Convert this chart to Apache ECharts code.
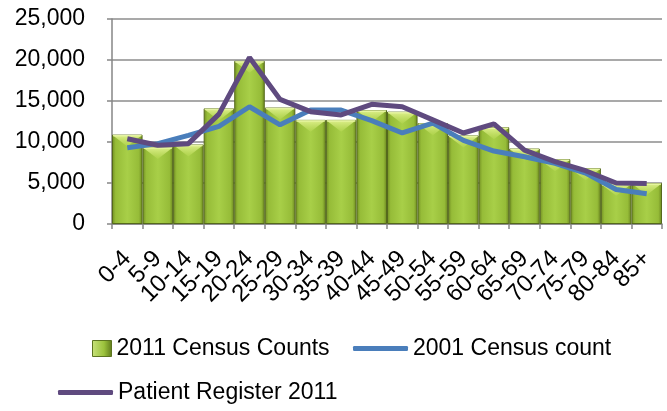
<!DOCTYPE html>
<html>
<head>
<meta charset="utf-8">
<script src="https://cdn.jsdelivr.net/npm/echarts@6/dist/echarts.min.js"></script>
<style>
html,body{margin:0;padding:0;background:#fff;}
#chart{width:667px;height:411px;}
</style>
</head>
<body>
<div id="chart"></div>
<script>
const categories = ['0-4','5-9','10-14','15-19','20-24','25-29','30-34','35-39','40-44','45-49','50-54','55-59','60-64','65-69','70-74','75-79','80-84','85+'];
const census2011 = [10900, 9400, 9700, 14100, 19900, 14200, 12700, 12700, 13900, 13700, 12300, 10800, 11800, 9200, 7900, 6800, 4900, 5000];
const census2001 = [9300, 9800, 10800, 11900, 14300, 12100, 13900, 13900, 12600, 11100, 12300, 10200, 8900, 8200, 7400, 6200, 4200, 3700];
const patient2011 = [10400, 9600, 9800, 13400, 20300, 15200, 13700, 13300, 14600, 14300, 12700, 11100, 12200, 9000, 7600, 6500, 5000, 4950];
const yTicks = [0, 5000, 10000, 15000, 20000, 25000];

const FONT = 'Liberation Sans';
const barGrad = new echarts.graphic.LinearGradient(0, 0, 1, 0, [
  {offset: 0, color: '#718d22'},
  {offset: 0.12, color: '#96bc38'},
  {offset: 0.5, color: '#a8cf48'},
  {offset: 0.88, color: '#96bc38'},
  {offset: 1, color: '#6a851f'}
]);
const legendGrad = new echarts.graphic.LinearGradient(0, 0, 1, 0, [
  {offset: 0, color: '#c8e27a'},
  {offset: 0.6, color: '#9bc23c'},
  {offset: 1, color: '#5f7a1b'}
]);

const chart = echarts.init(document.getElementById('chart'), null, {renderer: 'canvas'});
chart.setOption({
  animation: false,
  backgroundColor: '#ffffff',
  grid: {left: 112, right: 5, top: 19, bottom: 187, containLabel: false},
  legend: [
    {left: 92, top: 337, padding: 0, itemWidth: 19, itemHeight: 16, itemGap: 0,
     textStyle: {fontFamily: FONT, fontSize: 23, color: '#000'},
     data: [{name: '2011 Census Counts', icon: 'rect', itemStyle: {color: legendGrad, borderColor: '#5c7420', borderWidth: 1}}]},
    {left: 353, top: 337, padding: 0, itemWidth: 55, itemHeight: 5, itemGap: 0,
     textStyle: {fontFamily: FONT, fontSize: 23, color: '#000'},
     data: [{name: '2001 Census count', icon: 'roundRect'}]},
    {left: 58, top: 381, padding: 0, itemWidth: 55, itemHeight: 5, itemGap: 0,
     textStyle: {fontFamily: FONT, fontSize: 23, color: '#000'},
     data: [{name: 'Patient Register 2011', icon: 'roundRect'}]}
  ],
  xAxis: {
    type: 'category',
    data: categories,
    boundaryGap: true,
    axisLine: {show: true, lineStyle: {color: '#868686', width: 1.5}},
    axisTick: {show: true, length: 5, lineStyle: {color: '#868686', width: 1.5}},
    axisLabel: {interval: 0, rotate: 45, margin: 31, fontFamily: FONT, fontSize: 24, color: '#000'},
    splitLine: {show: false}
  },
  yAxis: {
    type: 'value',
    min: yTicks[0],
    max: yTicks[yTicks.length - 1],
    interval: yTicks[1] - yTicks[0],
    axisLine: {show: true, lineStyle: {color: '#868686', width: 1.5}},
    axisTick: {show: true, length: 5, lineStyle: {color: '#868686', width: 1.5}},
    axisLabel: {margin: 27, fontFamily: FONT, fontSize: 23, color: '#000',
      formatter: v => v.toLocaleString('en-US')},
    splitLine: {show: true, lineStyle: {color: '#8c8c8c', width: 1.5}}
  },
  series: [
    {
      name: '2011 Census Counts',
      type: 'bar',
      data: census2011,
      barCategoryGap: '0%',
      itemStyle: {color: barGrad, borderColor: '#55691c', borderWidth: 1},
      z: 2
    },
    {
      name: 'bevel',
      type: 'custom',
      data: census2011.map((v, i) => [i, v]),
      encode: {x: 0, y: 1},
      z: 3,
      silent: true,
      renderItem: function (params, api) {
        const pt = api.coord([api.value(0), api.value(1)]);
        const w = api.size([1, 0])[0];
        const l = pt[0] - w / 2 + 1, r = pt[0] + w / 2 - 1, t = pt[1] + 1;
        return {
          type: 'group',
          children: [
            {type: 'polygon', shape: {points: [[l, t], [r, t], [pt[0], t + 11]]},
             style: {fill: new echarts.graphic.LinearGradient(0, 0, 0, 1, [
               {offset: 0, color: 'rgba(222,240,140,0.95)'},
               {offset: 1, color: 'rgba(180,214,80,0.6)'}
             ])}},
            {type: 'line', shape: {x1: l, y1: t, x2: r, y2: t},
             style: {stroke: 'rgba(235,248,170,0.9)', lineWidth: 1.5}}
          ]
        };
      }
    },
    {
      name: '2001 Census count',
      type: 'line',
      data: census2001,
      symbol: 'none',
      lineStyle: {color: '#4a7ebb', width: 5},
      itemStyle: {color: '#4a7ebb'},
      z: 4
    },
    {
      name: 'Patient Register 2011',
      type: 'line',
      data: patient2011,
      symbol: 'none',
      lineStyle: {color: '#5f4a7f', width: 5},
      itemStyle: {color: '#5f4a7f'},
      z: 5
    }
  ]
});
</script>
</body>
</html>
